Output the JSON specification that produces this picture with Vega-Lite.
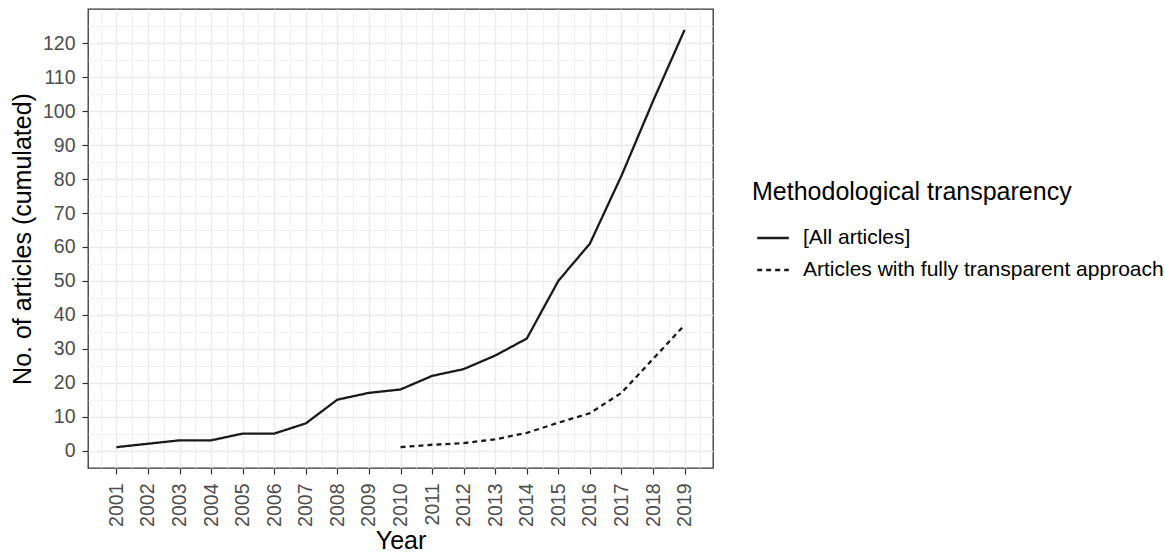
{
  "$schema": "https://vega.github.io/schema/vega-lite/v6.json",
  "autosize": "none",
  "width": 625,
  "height": 459,
  "padding": {"left": 88, "top": 9, "right": 452, "bottom": 89},
  "background": "white",
  "config": {
    "font": "Liberation Sans",
    "view": {"stroke": "#333333", "strokeWidth": 1.3},
    "axis": {"domain": false}
  },
  "data": {
    "values": [
      {"year": 2001, "series": "[All articles]", "count": 1},
      {"year": 2002, "series": "[All articles]", "count": 2},
      {"year": 2003, "series": "[All articles]", "count": 3},
      {"year": 2004, "series": "[All articles]", "count": 3},
      {"year": 2005, "series": "[All articles]", "count": 5},
      {"year": 2006, "series": "[All articles]", "count": 5},
      {"year": 2007, "series": "[All articles]", "count": 8},
      {"year": 2008, "series": "[All articles]", "count": 15},
      {"year": 2009, "series": "[All articles]", "count": 17},
      {"year": 2010, "series": "[All articles]", "count": 18},
      {"year": 2011, "series": "[All articles]", "count": 22},
      {"year": 2012, "series": "[All articles]", "count": 24},
      {"year": 2013, "series": "[All articles]", "count": 28},
      {"year": 2014, "series": "[All articles]", "count": 33},
      {"year": 2015, "series": "[All articles]", "count": 50},
      {"year": 2016, "series": "[All articles]", "count": 61},
      {"year": 2017, "series": "[All articles]", "count": 81},
      {"year": 2018, "series": "[All articles]", "count": 103},
      {"year": 2019, "series": "[All articles]", "count": 124},
      {"year": 2010, "series": "Articles with fully transparent approach", "count": 1},
      {"year": 2011, "series": "Articles with fully transparent approach", "count": 1.7},
      {"year": 2012, "series": "Articles with fully transparent approach", "count": 2.2},
      {"year": 2013, "series": "Articles with fully transparent approach", "count": 3.3},
      {"year": 2014, "series": "Articles with fully transparent approach", "count": 5.2},
      {"year": 2015, "series": "Articles with fully transparent approach", "count": 8.2},
      {"year": 2016, "series": "Articles with fully transparent approach", "count": 11},
      {"year": 2017, "series": "Articles with fully transparent approach", "count": 17},
      {"year": 2018, "series": "Articles with fully transparent approach", "count": 27},
      {"year": 2019, "series": "Articles with fully transparent approach", "count": 37}
    ]
  },
  "layer": [
    {
      "mark": {"type": "line", "opacity": 0},
      "encoding": {
        "x": {
          "field": "year", "type": "quantitative",
          "scale": {"domain": [2000.1, 2019.9], "nice": false, "zero": false},
          "axis": {
            "orient": "bottom", "values": [2000.5, 2001.5, 2002.5, 2003.5, 2004.5, 2005.5, 2006.5, 2007.5, 2008.5, 2009.5, 2010.5, 2011.5, 2012.5, 2013.5, 2014.5, 2015.5, 2016.5, 2017.5, 2018.5, 2019.5],
            "grid": true, "gridColor": "#EBEBEB", "gridWidth": 0.7,
            "labels": false, "ticks": false, "title": null, "domain": false
          }
        },
        "y": {
          "field": "count", "type": "quantitative",
          "scale": {"domain": [-5.15, 130.15], "nice": false, "zero": false},
          "axis": {
            "orient": "left", "values": [5, 15, 25, 35, 45, 55, 65, 75, 85, 95, 105, 115, 125],
            "grid": true, "gridColor": "#EBEBEB", "gridWidth": 0.7,
            "labels": false, "ticks": false, "title": null, "domain": false
          }
        },
        "detail": {"field": "series"}
      }
    },
    {
      "mark": {"type": "line", "strokeWidth": 2.3, "color": "#1a1a1a"},
      "encoding": {
        "x": {
          "field": "year", "type": "quantitative",
          "axis": {
            "orient": "bottom",
            "values": [2001, 2002, 2003, 2004, 2005, 2006, 2007, 2008, 2009, 2010, 2011, 2012, 2013, 2014, 2015, 2016, 2017, 2018, 2019],
            "format": "d", "labelAngle": 270, "labelAlign": "right", "labelBaseline": "middle",
            "labelFontSize": 19.5, "labelColor": "#4D4D4D", "labelPadding": 9,
            "ticks": true, "tickSize": 6, "tickColor": "#333333", "tickWidth": 1.2,
            "grid": true, "gridColor": "#EBEBEB", "gridWidth": 1.4,
            "title": "Year", "titleFontSize": 25, "titleFontWeight": "normal", "titleColor": "#000000", "titlePadding": 2
          }
        },
        "y": {
          "field": "count", "type": "quantitative",
          "axis": {
            "orient": "left",
            "values": [0, 10, 20, 30, 40, 50, 60, 70, 80, 90, 100, 110, 120],
            "labelFontSize": 19.5, "labelColor": "#4D4D4D", "labelPadding": 7,
            "ticks": true, "tickSize": 6, "tickColor": "#333333", "tickWidth": 1.2,
            "grid": true, "gridColor": "#EBEBEB", "gridWidth": 1.4,
            "title": "No. of articles (cumulated)", "titleFontSize": 25, "titleFontWeight": "normal", "titleColor": "#000000", "titlePadding": 7
          }
        },
        "strokeDash": {
          "field": "series", "type": "nominal",
          "scale": {"domain": ["[All articles]", "Articles with fully transparent approach"], "range": [[1, 0], [5, 4]]},
          "legend": {
            "orient": "none", "legendX": 664, "legendY": 171,
            "title": "Methodological transparency", "titleFontSize": 25, "titleFontWeight": "normal", "titleColor": "#000000", "titlePadding": 16, "titleLimit": 1000,
            "labelFontSize": 21, "labelColor": "#000000", "labelOffset": 13, "labelLimit": 1000,
            "symbolType": "stroke", "symbolSize": 1000, "symbolStrokeWidth": 2.3, "symbolStrokeColor": "#1a1a1a", "symbolOffset": 4,
            "rowPadding": 5
          }
        }
      }
    }
  ],
  "resolve": {"axis": {"x": "independent", "y": "independent"}}
}
